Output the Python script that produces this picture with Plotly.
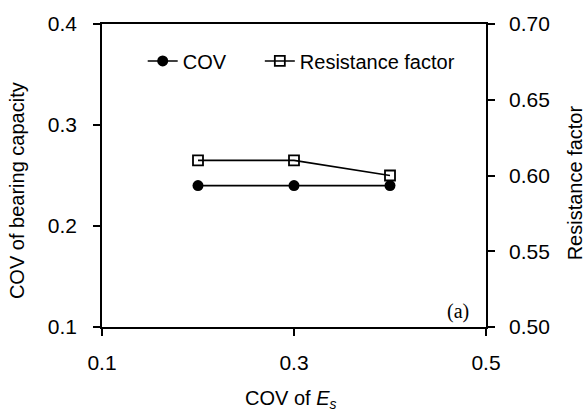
import plotly.graph_objects as go

cov_es = [0.2, 0.3, 0.4]
cov_bearing = [0.24, 0.24, 0.24]
resistance_factor = [0.61, 0.61, 0.60]

FONT = "Liberation Sans, Arial, sans-serif"
fs = 21
tfs = 20

fig = go.Figure()
fig.add_trace(go.Scatter(
    x=cov_es, y=cov_bearing, name="COV", mode="lines+markers",
    line=dict(color="black", width=1.6),
    marker=dict(symbol="circle", size=11, color="black"),
    yaxis="y", legend="legend"))
fig.add_trace(go.Scatter(
    x=cov_es, y=resistance_factor, name="Resistance factor", mode="lines+markers",
    line=dict(color="black", width=1.6),
    marker=dict(symbol="square-open", size=10, color="black", line=dict(width=1.8)),
    yaxis="y2", legend="legend2"))

axis_common = dict(showgrid=False, zeroline=False, showline=True, linecolor="black",
                   linewidth=1.6, ticks="outside", ticklen=7, tickwidth=1.6,
                   tickcolor="black", tickfont=dict(family=FONT, size=fs, color="black"))

legend_common = dict(orientation="h", y=0.878, xanchor="left", yanchor="middle",
                     font=dict(family=FONT, size=tfs, color="black"),
                     bgcolor="rgba(0,0,0,0)")

fig.update_layout(
    width=587, height=419,
    margin=dict(l=102, r=101, t=22, b=92),
    paper_bgcolor="white", plot_bgcolor="white",
    font=dict(family=FONT, size=tfs, color="black"),
    showlegend=True,
    legend=dict(x=0.106, **legend_common),
    legend2=dict(x=0.411, **legend_common),
    xaxis=dict(range=[0.1, 0.5], tickvals=[0.1, 0.3, 0.5], tickformat=".1f",
               mirror=True, ticklabelstandoff=9, **axis_common),
    yaxis=dict(range=[0.1, 0.4], tickvals=[0.1, 0.2, 0.3, 0.4], tickformat=".1f",
               ticklabelstandoff=12, **axis_common),
    yaxis2=dict(range=[0.5, 0.7], tickvals=[0.5, 0.55, 0.6, 0.65, 0.7], tickformat=".2f",
                overlaying="y", side="right", ticklabelstandoff=10, **axis_common),
    annotations=[
        dict(text="COV of bearing capacity", xref="paper", yref="paper",
             x=-0.221, y=0.449, textangle=-90, showarrow=False,
             xanchor="center", yanchor="middle", font=dict(family=FONT, size=tfs)),
        dict(text="Resistance factor", xref="paper", yref="paper",
             x=1.2325, y=0.475, textangle=-90, showarrow=False,
             xanchor="center", yanchor="middle", font=dict(family=FONT, size=tfs)),
        dict(text="COV of <i>E</i><sub><i>s</i></sub>", xref="paper", yref="paper",
             x=0.0, y=-0.24, showarrow=False, xanchor="center", yanchor="middle",
             xshift=188, font=dict(family=FONT, size=tfs)),
        dict(text="(a)", xref="paper", yref="paper", x=0.927, y=0.05,
             showarrow=False, xanchor="center", yanchor="middle",
             font=dict(family="Liberation Serif, Times New Roman, serif", size=20)),
    ],
)

fig.write_html("out.html")
